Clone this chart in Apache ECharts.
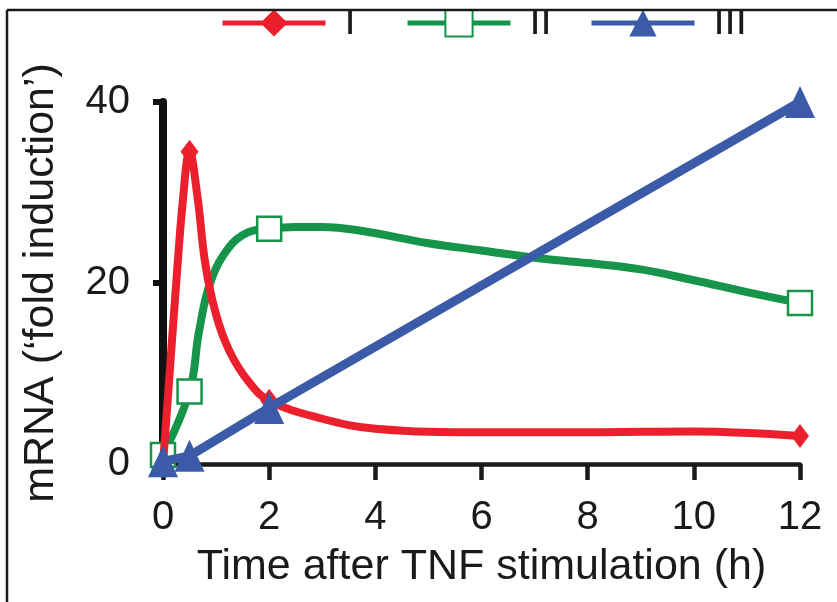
<!DOCTYPE html>
<html>
<head>
<meta charset="utf-8">
<script src="https://cdn.jsdelivr.net/npm/echarts@6/dist/echarts.min.js"></script>
<style>
  html, body { margin: 0; background: #fff; }
  #chart { width: 837px; height: 602px; }
</style>
</head>
<body>
<div id="chart"></div>
<script>
  // hours after TNF stimulation -> fold induction
  const timeI = [0, 0.1, 0.23, 0.38, 0.5, 0.65, 0.8, 1, 1.25, 1.6, 2, 3, 4, 6, 8, 10, 12]
  const valI = [0, 8, 18.5, 29.5, 34.5, 29.5, 22, 16.5, 12.5, 9.2, 7, 5, 3.9, 3.5, 3.5, 3.6, 3.1]
  const timeII = [0, 0.5, 0.68, 0.9, 1.25, 1.6, 2, 2.5, 3, 3.7, 5, 6, 7, 8, 9, 10, 11, 12]
  const valII = [1, 8, 14.7, 20.2, 24, 25.6, 26, 26.2, 26.2, 25.8, 24.4, 23.6, 22.8, 22.2, 21.5, 20.3, 19, 17.8]
  const timeIII = [0, 0.5, 2, 12]
  const valIII = [0.3, 0.9, 6.2, 40]
  // only these time points carry a marker
  const markedTimes = [0, 0.5, 2, 12]
  const xTicks = [0, 2, 4, 6, 8, 10, 12]
  const yTicks = [0, 20, 40]
  const names = ['I', 'II', 'III']

  const RED = '#ec1f2d', GREEN = '#15944a', BLUE = '#3b5ba9', INK = '#1a1a1a'
  const FONT = '"Liberation Sans", Arial, Helvetica, sans-serif'

  function points(ts, vs, sym) {
    return ts.map(function (t, i) {
      return { value: [t, vs[i]], symbol: markedTimes.indexOf(t) >= 0 ? sym : 'none' }
    })
  }

  // one legend per entry so the entries sit at the same spacing as the figure
  const legendLeft = [220, 405, 589]
  function legendFor(i) {
    return {
      data: [names[i]],
      left: legendLeft[i],
      top: 3,
      padding: 0,
      itemWidth: 103,
      itemHeight: 34,
      lineStyle: { width: 5 },
      textStyle: { fontSize: 40, color: INK, fontFamily: FONT, padding: [0, 0, 0, 14] }
    }
  }

  let myChart = echarts.init(document.getElementById('chart'))
  myChart.setOption({
    animation: false,
    backgroundColor: '#fff',
    textStyle: { fontFamily: FONT },
    grid: { left: 163, right: 37, top: 102, bottom: 138, outerBoundsMode: 'none' },
    legend: [legendFor(0), legendFor(1), legendFor(2)],
    xAxis: {
      type: 'value',
      min: xTicks[0],
      max: xTicks[xTicks.length - 1],
      interval: xTicks[1] - xTicks[0],
      name: 'Time after TNF stimulation (h)',
      nameLocation: 'middle',
      nameGap: 82,
      nameTextStyle: { fontSize: 43, color: INK, fontFamily: FONT },
      axisLine: { lineStyle: { color: INK, width: 4.5 } },
      axisTick: { show: true, length: 16, lineStyle: { color: INK, width: 4.5 } },
      axisLabel: { fontSize: 40, color: INK, margin: 34, fontFamily: FONT },
      splitLine: { show: false }
    },
    yAxis: {
      type: 'value',
      min: yTicks[0],
      max: yTicks[yTicks.length - 1],
      interval: yTicks[1] - yTicks[0],
      name: 'mRNA (\u2018fold induction\u2019)',
      nameLocation: 'middle',
      nameGap: 100,
      nameTextStyle: { fontSize: 43, color: INK, fontFamily: FONT },
      axisLine: { show: true, lineStyle: { color: '#111', width: 8 } },
      axisTick: { show: true, length: 10, lineStyle: { color: '#111', width: 6 } },
      axisLabel: { fontSize: 40, color: INK, margin: 33, fontFamily: FONT },
      splitLine: { show: false }
    },
    series: [
      {
        name: 'I',
        type: 'line',
        z: 3,
        smooth: 0.4,
        symbol: 'diamond',
        symbolSize: [18, 24],
        lineStyle: { color: RED, width: 8 },
        itemStyle: { color: RED },
        data: points(timeI, valI, 'diamond')
      },
      {
        name: 'II',
        type: 'line',
        z: 2,
        smooth: 0.4,
        symbol: 'rect',
        symbolSize: 24,
        lineStyle: { color: GREEN, width: 8 },
        itemStyle: { color: '#fff', borderColor: GREEN, borderWidth: 2.5 },
        data: points(timeII, valII, 'rect')
      },
      {
        name: 'III',
        type: 'line',
        z: 4,
        symbol: 'triangle',
        symbolSize: [30, 32],
        lineStyle: { color: BLUE, width: 9 },
        itemStyle: { color: BLUE },
        data: points(timeIII, valIII, 'triangle')
      }
    ],
    graphic: [
      // the figure is cropped just above the legend, inside a thin frame
      { type: 'rect', z: 100, shape: { x: 0, y: 0, width: 837, height: 9 }, style: { fill: '#fff' } },
      { type: 'line', z: 101, shape: { x1: 7, y1: 10, x2: 837, y2: 10 }, style: { stroke: INK, lineWidth: 2.5 } },
      { type: 'line', z: 101, shape: { x1: 7, y1: 10, x2: 7, y2: 602 }, style: { stroke: INK, lineWidth: 2.5 } }
    ]
  })
</script>
</body>
</html>
